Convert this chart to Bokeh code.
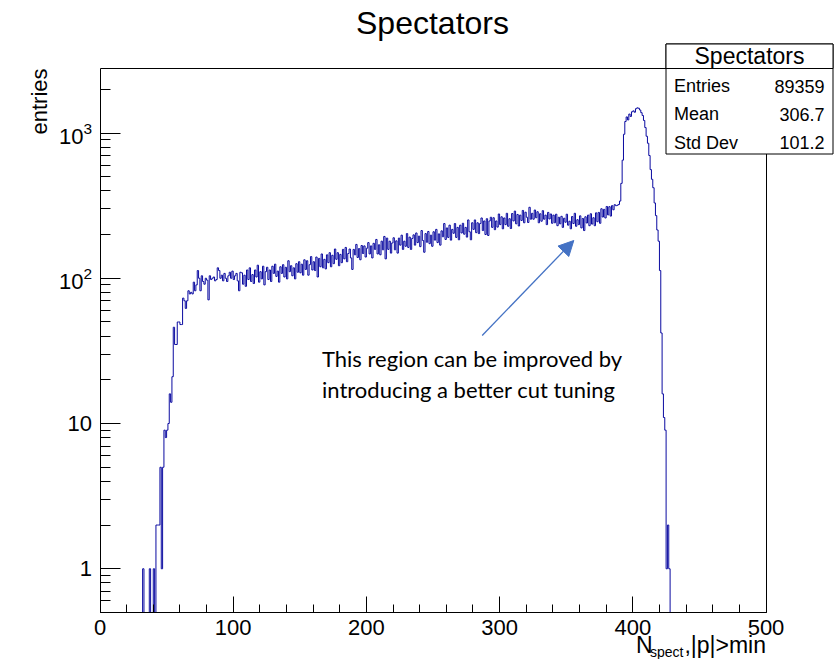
import math
from bokeh.plotting import figure
from bokeh.models import (Label, BoxAnnotation, Arrow, NormalHead, LinearAxis,
                          FixedTicker, LogTicker, LogTickFormatter, Range1d, ColumnDataSource)
from bokeh.embed import file_html
from bokeh.resources import INLINE

# ---------------- data ----------------
hist_title = "Spectators"
y_title = "entries"
x_title_main = "N"
x_title_sub = "spect"
x_title_tail = ",|p|>min"

first_bin = 30          # left edge of first listed bin
bin_width = 1
counts = [
    # 30-54
    0, 0, 1, 0, 0, 0, 0, 1, 0, 0, 1, 0, 2, 2, 2, 5, 1, 5, 9, 8, 9, 10, 16, 14, 21,
    # 55-105
    46, 35, 35, 50, 50, 48, 48, 73, 70, 62, 70, 82, 78, 80, 78, 94, 82, 90, 113, 100,
    82, 104, 95, 91, 100, 97, 71, 104, 98, 100, 102, 96, 98, 118, 113, 100, 105, 96, 108, 100,
    95, 104, 110, 100, 112, 98, 104, 108, 96, 82, 110,
    # 106-150
    109, 91, 105, 88, 114, 98, 118, 95, 106, 92, 114, 102, 123, 94, 111, 99, 121, 90, 111, 119,
    98, 114, 95, 121, 108, 125, 103, 112, 94, 120, 108, 124, 102, 119, 99, 132, 111, 122, 104, 118,
    99, 126, 110, 130, 109,
    # 151-200
    125, 105, 134, 115, 132, 105, 124, 141, 114, 130, 113, 140, 102, 137, 120, 147, 118, 135, 116, 145,
    128, 150, 120, 144, 126, 159, 135, 150, 122, 146, 128, 158, 136, 163, 130, 148, 159, 138, 115, 158,
    145, 171, 139, 160, 134, 168, 148, 167, 140, 161,
    # 201-250
    176, 147, 167, 138, 174, 158, 185, 147, 170, 145, 180, 157, 194, 136, 189, 158, 180, 149, 175, 190,
    157, 181, 149, 189, 169, 198, 158, 180, 166, 203, 163, 192, 158, 188, 199, 169, 205, 176, 195, 165,
    213, 182, 151, 203, 177, 210, 173, 198, 166, 209,
    # 251-300
    183, 217, 176, 202, 169, 212, 193, 238, 185, 222, 191, 232, 183, 217, 204, 238, 191, 224, 184, 232,
    205, 239, 201, 224, 192, 252, 209, 184, 241, 217, 252, 206, 241, 203, 238, 260, 213, 248, 200, 257,
    197, 248, 263, 224, 261, 216, 248, 225, 277, 234,
    # 301-340
    265, 219, 260, 234, 280, 228, 257, 220, 279, 248, 290, 237, 275, 229, 272, 250, 293, 241, 285, 263,
    242, 308, 255, 280, 255, 295, 261, 287, 241, 278, 247, 292, 255, 272, 234, 284, 256, 277, 239, 272,
    # 341-387
    241, 276, 230, 263, 237, 267, 224, 259, 243, 276, 232, 247, 219, 266, 238, 280, 228, 253, 234, 269,
    222, 258, 213, 265, 240, 272, 230, 278, 236, 261, 230, 282, 245, 284, 239, 301, 264, 298, 260, 312,
    273, 311, 268, 316, 296, 321, 316,
    # 388-427
    318, 322, 340, 450, 650, 980, 1200, 1290, 1230, 1350, 1300, 1400, 1420, 1390, 1470, 1490, 1480, 1440,
    1380, 1320, 1220, 1090, 950, 850, 700, 560, 480, 420, 330, 270, 215, 180, 113, 42, 16, 11, 9, 1, 2, 1,
]

x_ticks = [0, 100, 200, 300, 400, 500]
x_minor = list(range(0, 501, 20))
x_lim = (0, 500)
y_lim = (0.5, 2780)
stats_header = "Spectators"
stats_labels = ["Entries", "Mean", "Std Dev"]
stats_values = ["89359", "306.7", "101.2"]
note_lines = ["This region can be improved by", "introducing a better cut tuning"]

# ---------------- geometry (page pixels) ----------------
W, H = 838, 659
FL, FR, FT, FB = 99.5, 765.5, 68.0, 612.0   # inner plot box
sx = (FR - FL) / (x_lim[1] - x_lim[0])
dec = (FB - FT) / (math.log10(y_lim[1]) - math.log10(y_lim[0]))
x_range = Range1d(x_lim[0] - FL / sx, x_lim[1] + (W - FR) / sx)
y_range = Range1d(10 ** (math.log10(y_lim[0]) - (H - FB) / dec),
                  10 ** (math.log10(y_lim[1]) + FT / dec))

# ---------------- histogram outline ----------------
edges = [first_bin + i * bin_width for i in range(len(counts) + 1)]
ys = [c if c > 0 else y_lim[0] for c in counts] + [y_lim[0]]
src = ColumnDataSource(dict(x=edges, y=ys))

FONT = "Liberation Sans"

p = figure(width=W, height=H, x_range=x_range, y_range=y_range,
           y_axis_type="log", output_backend="svg", toolbar_location=None,
           min_border=0, min_border_left=0, min_border_right=0,
           min_border_top=0, min_border_bottom=0)
p.title.visible = False
p.outline_line_color = None
p.xgrid.visible = False
p.ygrid.visible = False
p.background_fill_color = "white"
p.border_fill_color = "white"

p.step(x="x", y="y", source=src, mode="after", line_color="#0a0aa0", line_width=1.0)

# x axis (fixed at the bottom of the inner box)
xa = p.xaxis[0]
xa.fixed_location = y_lim[0]
xa.bounds = x_lim
xa.ticker = FixedTicker(ticks=x_ticks, minor_ticks=x_minor)
xa.major_tick_in = 16
xa.major_tick_out = 0
xa.minor_tick_in = 8
xa.minor_tick_out = 0
xa.major_label_standoff = 7
xa.major_label_text_font = FONT
xa.major_label_text_font_size = "22px"
xa.major_label_text_color = "black"
xa.axis_line_color = "black"
xa.major_tick_line_color = "black"
xa.minor_tick_line_color = "black"

# y axis (log, fixed at x = 0)
ya = p.yaxis[0]
ya.fixed_location = x_lim[0]
ya.bounds = y_lim
ya.ticker = LogTicker(num_minor_ticks=10)
ya.formatter = LogTickFormatter(min_exponent=2)
ya.major_tick_in = 20
ya.major_tick_out = 0
ya.minor_tick_in = 10
ya.minor_tick_out = 0
ya.major_label_standoff = 8
ya.major_label_text_font = FONT
ya.major_label_text_font_size = "22px"
ya.major_label_text_color = "black"
ya.axis_line_color = "black"
ya.major_tick_line_color = "black"
ya.minor_tick_line_color = "black"

# top and right edges of the box (no ticks)
top_ax = LinearAxis(fixed_location=y_lim[1], bounds=x_lim, ticker=FixedTicker(ticks=[]),
                    major_tick_line_color=None, minor_tick_line_color=None,
                    axis_line_color="black")
right_ax = LinearAxis(fixed_location=x_lim[1], bounds=y_lim, ticker=FixedTicker(ticks=[]),
                      major_tick_line_color=None, minor_tick_line_color=None,
                      axis_line_color="black")
p.add_layout(top_ax, "above")
p.add_layout(right_ax, "right")

MID = 0.358  # distance from text baseline to the anchor used by the renderer, in em


def lab(text, px, py, size, align="left", angle=0.0, font=FONT, color="black"):
    """Text whose baseline lies at page pixel (px, py)."""
    if angle == 0.0:
        ax, ay = px, py - MID * size
    else:  # rotated by +90 degrees: baseline is a vertical line at px
        ax, ay = px - MID * size, py
    return Label(x=ax, y=H - ay, x_units="screen", y_units="screen", text=text,
                 text_font=font, text_font_size=f"{size}px", text_align=align,
                 text_baseline="alphabetic", angle=angle, text_color=color)


# title and axis titles
p.add_layout(lab(hist_title, 432, 33.5, 32, align="center"))
p.add_layout(lab(y_title, 46.7, 68, 22, align="right", angle=math.pi / 2))
p.add_layout(lab(x_title_tail, 765.5, 653, 23, align="right"))
p.add_layout(lab(x_title_sub, 683, 657, 14, align="right"))
p.add_layout(lab(x_title_main, 652, 653, 23, align="right"))

# statistics box
BX0, BX1, BY0, BY1, BYH = 665.5, 832.5, 43.5, 153.5, 68.0
for top, bottom in [(BY0, BY1), (BY0, BYH)]:
    p.add_layout(BoxAnnotation(left=BX0, right=BX1, top=H - top, bottom=H - bottom,
                               left_units="screen", right_units="screen",
                               top_units="screen", bottom_units="screen",
                               fill_color="white", fill_alpha=1.0,
                               line_color="black", line_alpha=1.0, line_width=1))
p.add_layout(lab(stats_header, (BX0 + BX1) / 2, 64, 23, align="center"))
for i, (name, val) in enumerate(zip(stats_labels, stats_values)):
    yb = 92 + 28.3 * i
    p.add_layout(lab(name, 673.5, yb, 18))
    p.add_layout(lab(val, 824, yb, 18, align="right"))

# note and arrow
p.add_layout(lab(note_lines[0], 321.5, 366, 22, font="Lato"))
p.add_layout(lab(note_lines[1], 321.5, 396.7, 22, font="Lato"))
p.add_layout(Arrow(end=NormalHead(size=15, fill_color="#4472c4", line_color="#4472c4"),
                   x_start=481.7, y_start=H - 335, x_end=573.3, y_end=H - 240,
                   start_units="screen", end_units="screen",
                   line_color="#4472c4", line_width=1.3))

open("out.html", "w").write(file_html(p, INLINE))
